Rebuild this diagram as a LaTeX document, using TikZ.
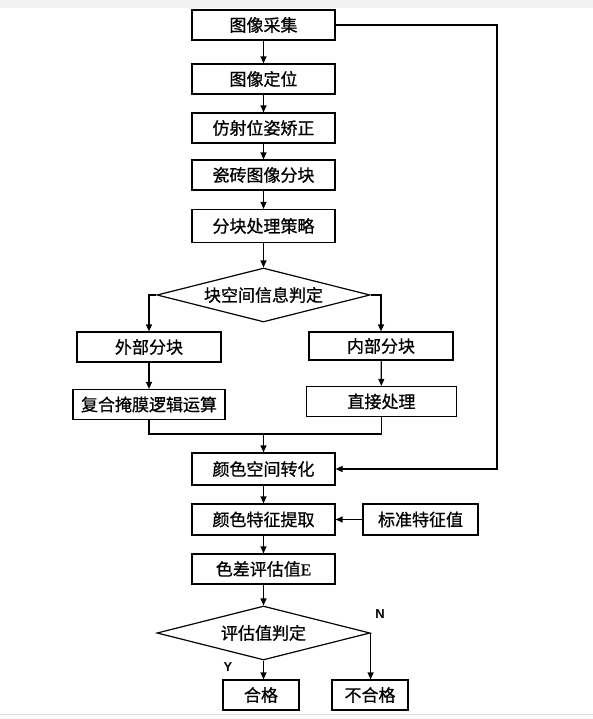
\documentclass[tikz,border=0pt]{standalone}
\usepackage{fontspec}
\setmainfont{Noto Sans CJK SC}[FakeBold=0.8]
\newfontfamily\yn{Liberation Sans}
\newfontfamily\tnr{Liberation Serif}[FakeBold=0.8]
\usetikzlibrary{shapes.geometric}
\usetikzlibrary{arrows.meta}
\begin{document}
\begin{tikzpicture}
    [x=1pt,y=-1pt,line width=1.2pt,>={Triangle[length=7pt,width=6pt]},
    box/.style={draw,rectangle,minimum width=143pt,minimum height=30pt,inner sep=0pt,font=\fontsize{17}{18}\selectfont},
    judge/.style={draw,diamond,aspect=3.9,minimum width=213pt,minimum height=54pt,inner sep=0pt,font=\fontsize{17}{18}\selectfont},
    ynlabel/.style={font=\yn\bfseries\fontsize{13}{14}\selectfont}]
    \useasboundingbox (0,0) rectangle (593,719);
    \fill[black!5] (0,0) rectangle (593,8);
    \fill[black!2] (0,714) rectangle (593,719);
    \draw[black!13,line width=0.8pt] (0,714)--(593,714);
    \node[box] (acq) at (263.5,25) {图像采集};
    \node[box] (loc) at (263.5,79) {图像定位};
    \node[box] (aff) at (263.5,128) {仿射位姿矫正};
    \node[box] (tile) at (263.5,175) {瓷砖图像分块};
    \node[box,minimum height=33pt] (plan) at (263.5,226) {分块处理策略};
    \node[judge] (space) at (263.5,295) {块空间信息判定};
    \node[box,minimum width=144pt] (outer) at (149,347) {外部分块};
    \node[box,minimum width=144pt,minimum height=28pt] (inner) at (381,346) {内部分块};
    \node[box,minimum width=152pt] (mask) at (149,404.5) {复合掩膜逻辑运算};
    \node[box,minimum width=150pt] (direct) at (381.5,401.5) {直接处理};
    \node[box,minimum height=32pt] (conv) at (263.5,469) {颜色空间转化};
    \node[box,minimum height=31pt] (feat) at (263.5,519.5) {颜色特征提取};
    \node[box,minimum width=115pt,minimum height=31pt] (std) at (420.5,519.5) {标准特征值};
    \node[box] (diff) at (263.5,569) {色差评估值{\tnr E}};
    \node[judge] (eval) at (263.5,633) {评估值判定};
    \node[box,minimum width=76pt] (pass) at (261,695) {合格};
    \node[box,minimum width=76pt] (fail) at (370,695) {不合格};
    \node[ynlabel] (Y) at (228,667) {Y};
    \node[ynlabel] (N) at (380,614) {N};
    \coordinate (side) at (497,0);
    \coordinate (join) at (263.5,434);
    \draw[->] (acq)--(loc);
    \draw[->] (loc)--(aff);
    \draw[->] (aff)--(tile);
    \draw[->] (tile)--(plan);
    \draw[->] (plan)--(space);
    \draw[->] (space.west)-|(outer);
    \draw[->] (space.east)-|(inner);
    \draw[->] (outer)--(mask);
    \draw[->] (inner)--(direct);
    \draw (mask)|-(join)-|(direct);
    \draw[->] (join)--(conv);
    \draw[->] (acq.east)--(acq.east-|side)|-(conv.east);
    \draw[->] (conv)--(feat);
    \draw[->] (std)--(feat);
    \draw[->] (feat)--(diff);
    \draw[->] (diff)--(eval);
    \draw[->] (eval.south)--(eval.south|-pass.north);
    \draw[->] (eval.east)--(eval.east|-fail.north);
  \end{tikzpicture}
\end{document}
